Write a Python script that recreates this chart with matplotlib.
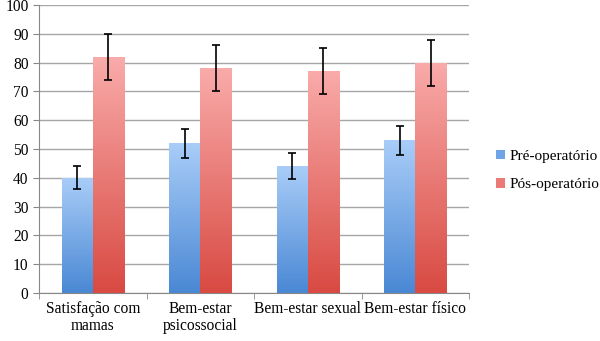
import numpy as np
import matplotlib.pyplot as plt
from matplotlib.patches import Patch
from matplotlib.colors import LinearSegmentedColormap

categories = ["Satisfação com\nmamas", "Bem-estar\npsicossocial", "Bem-estar sexual", "Bem-estar físico"]
series_names = ["Pré-operatório", "Pós-operatório"]
pre_vals = [40, 52, 44, 53]
pre_err = [4, 5, 4.5, 5]
post_vals = [82, 78, 77, 80]
post_err = [8, 8, 8, 8]

plt.rcParams['font.family'] = ['Liberation Serif', 'DejaVu Serif']

fig = plt.figure(figsize=(6, 3.41), dpi=100)
ax = fig.add_axes([0.065, 0.141, 0.717, 0.844])

blue_cmap = LinearSegmentedColormap.from_list("b", ["#4a88d4", "#a9cdf8"])
red_cmap = LinearSegmentedColormap.from_list("r", ["#d84a42", "#f9abaa"])

x = np.arange(len(categories))
w = 0.29
grad = np.linspace(0, 1, 256).reshape(-1, 1)

bars_pre = ax.bar(x - w / 2, pre_vals, w, color="none", zorder=3)
bars_post = ax.bar(x + w / 2, post_vals, w, color="none", zorder=3)
for bars, cmap in [(bars_pre, blue_cmap), (bars_post, red_cmap)]:
    for b in bars:
        x0, y0 = b.get_x(), b.get_y()
        im = ax.imshow(grad, cmap=cmap, origin="lower", aspect="auto",
                       extent=[x0, x0 + b.get_width(), y0, y0 + b.get_height()], zorder=3)
        im.set_clip_path(b)

ax.errorbar(x - w / 2, pre_vals, yerr=pre_err, fmt="none", ecolor="black", elinewidth=1.2, capsize=3, capthick=1.2, zorder=4)
ax.errorbar(x + w / 2, post_vals, yerr=post_err, fmt="none", ecolor="black", elinewidth=1.2, capsize=3, capthick=1.2, zorder=4)

ax.set_xlim(-0.5, len(categories) - 0.5)
ax.set_ylim(0, 100)
ax.set_yticks(range(0, 101, 10))
ax.yaxis.grid(True, color="#a6a6a6", linewidth=1)
ax.set_axisbelow(True)
ax.set_xticks(x)
ax.set_xticklabels(categories, fontsize=11.2, linespacing=1.1)
ax.tick_params(axis="x", length=0, pad=6)
ax.set_xticks(np.arange(-0.5, len(categories), 1), minor=True)
ax.tick_params(axis="x", which="minor", length=4, color="#888888", direction="out")
ax.tick_params(axis="y", length=4, color="#888888", labelsize=11.2)
for s in ["top", "right"]:
    ax.spines[s].set_visible(False)
for s in ["left", "bottom"]:
    ax.spines[s].set_color("#888888")

handles = [Patch(facecolor="#6fa4e6", label=series_names[0]),
           Patch(facecolor="#ec7a76", label=series_names[1])]
fig.legend(handles=handles, loc="center left", bbox_to_anchor=(0.826, 0.5), frameon=False,
           borderaxespad=0, borderpad=0, fontsize=11, handlelength=0.6, handleheight=0.6,
           handletextpad=0.3, labelspacing=1.0)

fig.savefig("out.png", dpi=100)
